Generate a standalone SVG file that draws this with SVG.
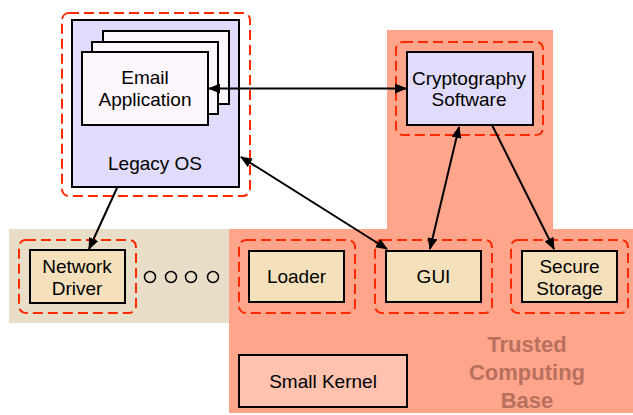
<svg xmlns="http://www.w3.org/2000/svg" width="633" height="415" viewBox="0 0 633 415">
<defs>
<style>
.t{font-family:"Liberation Sans",Arial,Helvetica,sans-serif;font-size:19px;fill:#000;text-anchor:middle}
.dash{fill:none;stroke:#ff2a00;stroke-width:2;stroke-dasharray:10 5}
.box{stroke:#000;stroke-width:2}
.lav{fill:#e1dcfc}
.drv{fill:#f4e0bb}
.conn{stroke:#000;stroke-width:2;fill:none}
.tcb{font-family:"Liberation Sans",Arial,Helvetica,sans-serif;font-size:22px;font-weight:bold;fill:#b8705f;text-anchor:middle}
</style>
<marker id="ah" viewBox="0 0 12 10" refX="11" refY="5" markerWidth="12" markerHeight="10" markerUnits="userSpaceOnUse" orient="auto-start-reverse">
<path d="M0,0 L12,5 L0,10 Z" fill="#000"/>
</marker>
</defs>
<rect width="633" height="415" fill="#fff"/>
<g id="regions">
<rect x="9" y="229" width="225" height="94" fill="#e8dec8"/>
<path d="M387,30 H553 V229 H633 V413 H229 V229 H387 Z" fill="#fea58b"/>
</g>
<g id="legacy-os">
<rect class="dash" x="62" y="13" width="188" height="183" rx="7"/>
<rect class="box lav" x="72" y="20" width="167" height="167"/>
<text class="t" x="155" y="170">Legacy OS</text>
</g>
<g id="email-application">
<rect class="box" x="103" y="31" width="126" height="73" fill="#fdf6fd"/>
<rect class="box" x="92" y="42" width="126" height="72" fill="#fdf6fd"/>
<rect class="box" x="82" y="52" width="126" height="73" fill="#fdf6fd"/>
<text class="t" x="145" y="84">Email</text>
<text class="t" x="145" y="106">Application</text>
</g>
<g id="cryptography-software">
<rect class="dash" x="396" y="42" width="147" height="93" rx="7"/>
<rect class="box lav" x="407" y="52" width="126" height="73"/>
<text class="t" x="469" y="85">Cryptography</text>
<text class="t" x="469" y="106">Software</text>
</g>
<g id="network-driver">
<rect class="dash" x="19" y="240" width="117" height="73" rx="7"/>
<rect class="box drv" x="30" y="250" width="95" height="53"/>
<text class="t" x="77" y="273">Network</text>
<text class="t" x="77" y="295">Driver</text>
</g>
<g id="ellipsis" fill="none" stroke="#000" stroke-width="1.5">
<circle cx="150" cy="277" r="5.5"/>
<circle cx="171" cy="277" r="5.5"/>
<circle cx="191" cy="277" r="5.5"/>
<circle cx="213" cy="277" r="5.5"/>
</g>
<g id="loader">
<rect class="dash" x="239" y="240" width="116" height="73" rx="7"/>
<rect class="box drv" x="249" y="251" width="95" height="51"/>
<text class="t" x="296.5" y="283">Loader</text>
</g>
<g id="gui">
<rect class="dash" x="375" y="240" width="117" height="73" rx="7"/>
<rect class="box drv" x="386" y="251" width="95" height="51"/>
<text class="t" x="433.5" y="283">GUI</text>
</g>
<g id="secure-storage">
<rect class="dash" x="511" y="240" width="117" height="73" rx="7"/>
<rect class="box drv" x="522" y="251" width="95" height="51"/>
<text class="t" x="569.5" y="273">Secure</text>
<text class="t" x="569.5" y="295">Storage</text>
</g>
<g id="small-kernel">
<rect class="box" x="239" y="355" width="168" height="52" fill="#fec2ae"/>
<text class="t" x="323" y="388">Small Kernel</text>
</g>
<g id="tcb-label">
<text class="tcb" x="527" y="352">Trusted</text>
<text class="tcb" x="527" y="380">Computing</text>
<text class="tcb" x="527" y="408">Base</text>
</g>
<g id="connectors">
<line class="conn" x1="209" y1="88.5" x2="406" y2="88.5" marker-start="url(#ah)" marker-end="url(#ah)"/>
<line class="conn" x1="241" y1="157" x2="387" y2="249" marker-start="url(#ah)" marker-end="url(#ah)"/>
<line class="conn" x1="459" y1="127" x2="430" y2="249" marker-start="url(#ah)" marker-end="url(#ah)"/>
<line class="conn" x1="492" y1="125" x2="554" y2="249" marker-end="url(#ah)"/>
<line class="conn" x1="117" y1="188" x2="89" y2="249" marker-end="url(#ah)"/>
</g>
</svg>
